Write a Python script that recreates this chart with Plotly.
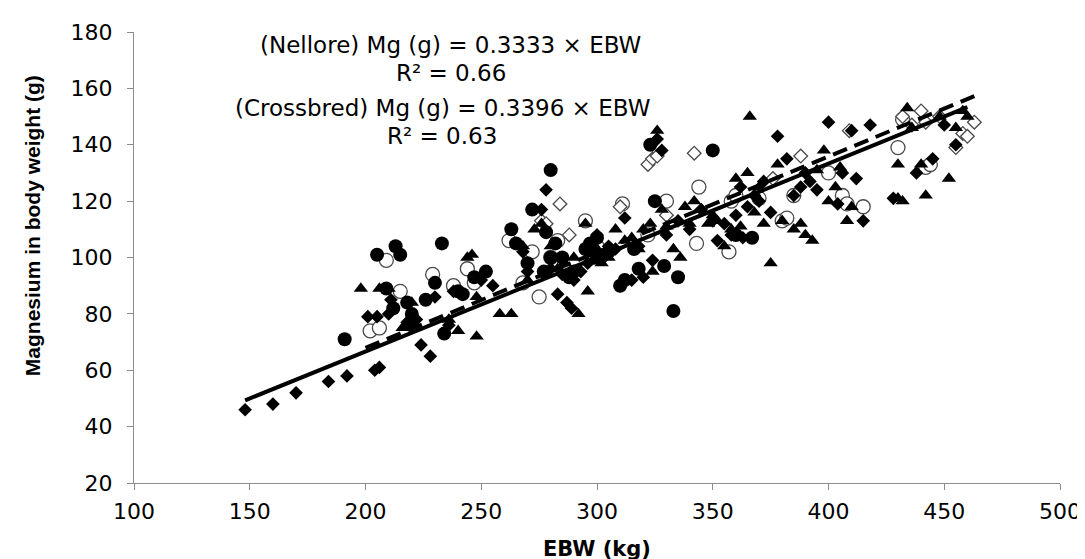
import plotly.graph_objects as go

# ---- data (EBW kg, Mg g) ----
fd_x = [148,160,170,184,192,204,206,201,205,210,211,218,220,222,224,228,230,236,238,250,255,268,270,276,278,283,287,289,293,296,300,305,310,315,320,324,326,328,330,345,350,355,360,363,365,370,372,378,382,385,390,395,400,406,410,415,418,438,445,455,
        280,285,290,298,303,308,312,318,335,340,352,358,362,368,375,388,392,404,412,428,450]
fd_y = [46,48,52,56,58,60,61,79,79,80,85,77,76,78,69,65,86,76,88,92,90,102,95,117,124,87,84,82,95,98,108,104,90,92,93,99,142,138,108,117,113,112,115,107,118,120,127,143,135,122,130,124,148,130,145,113,147,130,135,140,
        96,94,92,102,100,103,114,104,113,110,106,108,125,122,116,125,127,119,128,121,147]

od_x = [276,278,284,288,310,322,324,326,330,342,376,388,409,432,436,440,442,448,455,458,460,463]
od_y = [113,112,119,108,118,133,135,136,115,137,128,136,145,150,147,152,148,150,139,144,143,148]

fc_x = [191,205,209,213,215,212,218,220,233,234,230,240,247,252,263,265,272,278,280,282,285,288,290,295,297,300,305,310,316,318,323,325,329,333,335,350,367,280,277,242,226,300,312,360,270]
fc_y = [71,101,89,104,101,82,84,80,105,73,91,88,93,95,110,105,117,109,131,105,100,93,95,103,105,107,102,90,103,96,140,120,97,81,93,138,107,100,95,87,85,100,92,108,98]

oc_x = [202,206,209,215,229,238,244,247,262,268,272,275,280,283,295,298,311,322,330,343,344,357,358,360,370,380,385,400,406,408,415,430,432,442,444,300,382]
oc_y = [74,75,99,88,94,90,96,91,106,91,102,86,100,106,113,100,119,108,120,105,125,102,120,122,121,113,122,130,122,119,118,139,149,132,133,104,114]

ft_x = [198,206,210,216,220,236,240,248,246,248,258,263,268,273,276,280,286,290,295,298,300,302,305,308,312,318,320,323,324,326,328,330,333,336,338,340,292,296,
        345,348,350,352,355,358,362,365,368,366,370,372,375,378,380,385,388,390,393,395,400,403,405,408,410,430,430,432,434,436,440,442,448,452,455,458,460,244,270,283,315,342,360,398]
ft_y = [89,89,89,75,84,78,74,72,101,86,80,80,104,110,112,104,98,100,112,105,103,98,100,110,106,103,110,112,95,145,117,111,103,100,118,112,80,88,
        117,112,115,113,104,110,111,130,116,150,125,112,98,133,113,110,112,108,106,131,120,125,132,113,118,133,121,120,153,146,133,122,150,128,146,152,150,100,92,96,107,120,128,138]

# fitted trendlines (through origin)
nellore_slope = 0.3333
nellore_range = [148, 460]
cross_slope = 0.3396
cross_range = [200, 463]

x_ticks = [100,150,200,250,300,350,400,450,500]
y_ticks = [20,40,60,80,100,120,140,160,180]

BLACK = "#000000"
OPEN_LINE = "#4a4a4a"

fig = go.Figure()

def add(x, y, symbol, size, filled):
    if filled:
        marker = dict(symbol=symbol, size=size, color=BLACK, line=dict(width=0))
    else:
        marker = dict(symbol=symbol, size=size, color="white", line=dict(color=OPEN_LINE, width=1.3))
    fig.add_trace(go.Scatter(x=x, y=y, mode="markers", marker=marker, showlegend=False, hoverinfo="x+y"))

add(oc_x, oc_y, "circle", 14, False)
add(od_x, od_y, "diamond", 10.5, False)
add(fc_x, fc_y, "circle", 14, True)
add(fd_x, fd_y, "diamond", 10.5, True)
add(ft_x, ft_y, "triangle-up", 12.5, True)

fig.add_trace(go.Scatter(x=nellore_range, y=[nellore_slope * v for v in nellore_range], mode="lines",
                         line=dict(color=BLACK, width=4), showlegend=False))
fig.add_trace(go.Scatter(x=cross_range, y=[cross_slope * v for v in cross_range], mode="lines",
                         line=dict(color=BLACK, width=4, dash="15px,8px"), showlegend=False))

axis_common = dict(showgrid=False, zeroline=False, showline=True, linecolor="#8c8c8c", linewidth=1,
                   ticks="outside", ticklen=6, tickcolor="#8c8c8c", tickwidth=1,
                   tickfont=dict(family="DejaVu Sans", size=22, color="black"))

fig.update_xaxes(range=[100, 500], tickvals=x_ticks, ticktext=[str(v) for v in x_ticks],
                 ticklabelstandoff=3, **axis_common)
fig.update_yaxes(range=[20, 180], tickvals=y_ticks, ticktext=[str(v) for v in y_ticks],
                 ticklabelstandoff=10, **axis_common)

ann_font = dict(family="DejaVu Sans", size=23, color="black")
fig.add_annotation(xref="paper", yref="paper", x=0.342, y=0.971, text="(Nellore) Mg (g) = 0.3333 × EBW",
                   showarrow=False, font=ann_font, xanchor="center", yanchor="middle")
fig.add_annotation(xref="paper", yref="paper", x=0.342, y=0.908, text="R² = 0.66",
                   showarrow=False, font=ann_font, xanchor="center", yanchor="middle")
fig.add_annotation(xref="paper", yref="paper", x=0.333, y=0.831, text="(Crossbred) Mg (g) = 0.3396 × EBW",
                   showarrow=False, font=ann_font, xanchor="center", yanchor="middle")
fig.add_annotation(xref="paper", yref="paper", x=0.333, y=0.769, text="R² = 0.63",
                   showarrow=False, font=ann_font, xanchor="center", yanchor="middle")

# axis titles
fig.add_annotation(xref="paper", yref="paper", x=-0.1094, y=0.571, text="<b>Magnesium in body weight (g)</b>",
                   textangle=-90, showarrow=False, xanchor="center", yanchor="middle",
                   font=dict(family="Liberation Sans", size=21, color="black"))
fig.add_annotation(xref="paper", yref="paper", x=0.5, y=-0.147, text="<b>EBW (kg)</b>",
                   showarrow=False, xanchor="center", yanchor="middle",
                   font=dict(family="DejaVu Sans", size=21, color="black"))

fig.update_layout(width=1085, height=559, margin=dict(l=126, r=27, t=20, b=84),
                  plot_bgcolor="white", paper_bgcolor="white")

fig.write_html("out.html")
